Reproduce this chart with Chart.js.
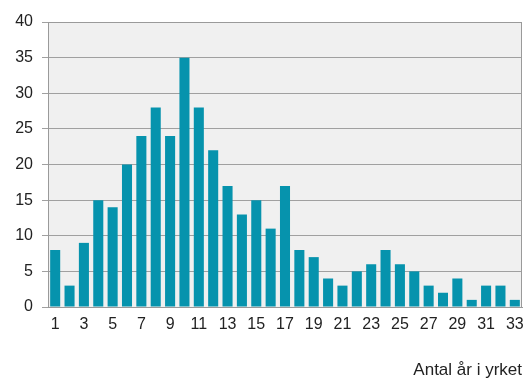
<!DOCTYPE html>
<html>
<head>
<meta charset="utf-8">
<script src="https://cdn.jsdelivr.net/npm/chart.js@4/dist/chart.umd.min.js"></script>
<style>
  html, body { margin: 0; padding: 0; background: #ffffff; }
  #wrap { width: 526px; height: 381px; }
</style>
</head>
<body>
<div id="wrap"><canvas id="c" width="526" height="381"></canvas></div>
<script>
// Years in the profession (1..33) and number of respondents for each
const years = Array.from({ length: 33 }, (_, i) => String(i + 1));
const counts = [8, 3, 9, 15, 14, 20, 24, 28, 24, 35, 28, 22, 17, 13, 15, 11, 17, 8, 7, 4, 3, 5, 6, 8, 6, 5, 3, 2, 4, 1, 3, 3, 1];
const yTicks = [0, 5, 10, 15, 20, 25, 30, 35, 40];
const xTitle = 'Antal år i yrket';

const FONT = 'Liberation Sans, Arial, sans-serif';

// Grey plot background and frame around the chart area
const plotFrame = {
  id: 'plotFrame',
  beforeDraw(chart) {
    const { ctx, chartArea: a } = chart;
    ctx.save();
    ctx.fillStyle = '#f0f0f0';
    ctx.fillRect(a.left, a.top, a.right - a.left, a.bottom - a.top);
    ctx.restore();
  },
  afterDatasetsDraw(chart) {
    const { ctx, chartArea: a } = chart;
    ctx.save();
    ctx.strokeStyle = '#9a9a9a';
    ctx.lineWidth = 1;
    ctx.strokeRect(a.left + 0.5, a.top + 0.5, a.right - a.left - 1, a.bottom - a.top);
    ctx.restore();
  }
};

new Chart(document.getElementById('c'), {
  type: 'bar',
  data: {
    labels: years,
    datasets: [{
      data: counts,
      backgroundColor: '#0693ad',
      borderWidth: 0,
      categoryPercentage: 1,
      barPercentage: 0.7
    }]
  },
  plugins: [plotFrame],
  options: {
    responsive: false,
    animation: false,
    layout: { padding: { left: 0, right: 4, top: 22, bottom: 0 } },
    plugins: { legend: { display: false }, tooltip: { enabled: false } },
    scales: {
      x: {
        grid: { display: false, drawTicks: false },
        border: { display: true, color: '#9a9a9a' },
        ticks: {
          autoSkip: false,
          maxRotation: 0,
          padding: 8,
          color: '#222222',
          font: { family: FONT, size: 16 },
          callback: (v, i) => (i % 2 === 0 ? years[i] : '')
        },
        title: {
          display: true,
          text: xTitle,
          align: 'end',
          color: '#222222',
          font: { family: FONT, size: 17 },
          padding: { top: 25, bottom: 0 }
        },
        afterFit(scale) {
          scale.height = 74;
          scale.paddingLeft = 0;
          scale.paddingRight = 0;
        }
      },
      y: {
        min: 0,
        max: 40,
        afterBuildTicks(scale) { scale.ticks = yTicks.map(v => ({ value: v })); },
        grid: { color: '#a0a0a0', lineWidth: 1, tickLength: 6, drawTicks: true },
        border: { display: true, color: '#9a9a9a' },
        ticks: {
          padding: 9,
          color: '#222222',
          font: { family: FONT, size: 16 }
        },
        afterFit(scale) { scale.width = 48; }
      }
    }
  }
});
</script>
</body>
</html>
